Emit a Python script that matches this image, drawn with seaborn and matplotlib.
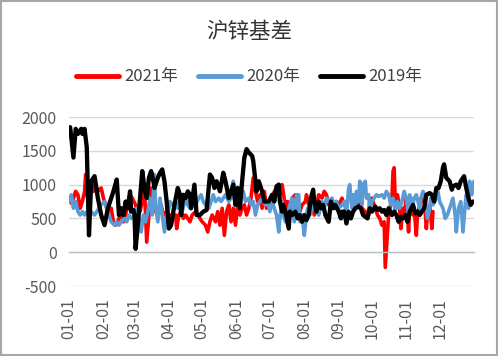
import matplotlib
matplotlib.use("Agg")
import matplotlib.pyplot as plt
from matplotlib.lines import Line2D
from matplotlib.patches import Rectangle
import seaborn as sns
import pandas as pd

# day of year / basis values
d2019 = [1, 4, 6, 8, 11, 12, 14, 16, 18, 20, 23, 26, 29, 32, 35, 40, 43, 45, 47, 49, 51, 53, 55, 56, 58, 59,
         60, 62, 64, 66, 68, 70, 72, 74, 76, 77, 80, 82, 84, 86, 88, 90,
         92, 95, 98, 100, 101, 103, 105, 107, 109, 110, 113, 115, 118, 121, 124, 127, 129, 131, 133, 136,
         139, 141, 144, 146, 148, 150, 152, 154, 156, 158, 160, 162, 165, 166, 168, 169, 171, 174, 176,
         180, 183, 185, 187, 189, 190, 192, 193, 195, 198, 199, 201, 204, 206, 208, 210, 212, 214, 216,
         218, 220, 221, 223, 225, 227, 229, 231, 234, 236, 238, 240, 243, 245, 246, 248, 250, 252, 254,
         256, 258, 261, 263, 265,
         269, 271, 273, 276, 278, 280, 282, 284, 286, 288, 291, 293, 295, 297, 299, 301, 303, 305, 307,
         310, 312, 314, 316, 318, 320, 322, 325, 327, 329, 331, 333, 335, 337, 338, 340, 343, 345, 346,
         349, 351, 353, 356, 358, 360, 362, 364]
v2019 = [1850, 1400, 1825, 1750, 1825, 1750, 1825, 1550, 250, 1050, 1125, 800, 550, 400, 650, 900, 1075, 550,
         650, 550, 750, 650, 900, 600, 625, 550,
         50, 400, 800, 1200, 950, 800, 1100, 1200, 1050, 950, 1100, 1175, 1225, 1050, 750, 350,
         400, 700, 950, 850, 550, 850, 800, 900, 850, 650, 1000, 550, 550, 600, 625, 1150, 1100, 950, 1050, 900,
         1175, 1050, 800, 900, 1000, 700, 950, 650, 1050, 1400, 1525, 1475, 1425, 1350, 1050, 900, 1050, 900, 750,
         750, 850, 750, 975, 1000, 750, 600, 700, 600, 350, 600, 550, 600, 500, 550, 450, 550, 475, 550,
         800, 925, 750, 600, 750, 650, 700, 550, 450, 750, 650, 700, 600, 500, 600, 600, 425, 600, 500,
         600, 650, 675, 650, 550,
         500, 650, 600, 675, 625, 650, 600, 625, 550, 650, 550, 600, 550, 450, 525, 500, 550, 450, 600,
         700, 575, 600, 550, 600, 650, 850, 875, 850, 750, 950, 950, 1050, 1250, 1300, 1100, 1050, 925, 975,
         1000, 950, 1050, 1125, 950, 800, 700, 750]

d2020 = [1, 2, 4, 6, 8, 10, 12, 14, 16, 18, 20, 23, 25, 27, 29, 32, 34, 36, 38, 41, 43, 45, 47, 50, 52, 54,
         56, 59, 61, 63, 65, 67, 69, 71, 73, 75, 77, 78, 80, 82, 84, 86, 88, 90,
         91, 93, 96, 98, 100, 102, 105, 107, 109, 111, 114, 117, 119, 121, 123, 126, 128, 130, 132, 135,
         137, 139, 141, 144, 146, 148, 150, 153, 155, 157, 159, 162, 164, 166, 168, 170, 172, 174, 177, 179,
         181, 183, 185, 187, 189, 190, 192, 193, 195, 197, 199, 201, 203, 205, 207, 208, 210, 212, 213,
         215, 217, 219, 221, 223, 225, 228, 230, 232, 234, 237, 239, 241, 243, 246, 248, 250, 252, 253,
         255, 256, 258, 259, 261, 262, 264, 265, 267, 268, 270, 271,
         273, 275, 277, 279, 282, 284, 286, 288, 290, 292, 294, 296, 298, 300, 302, 304, 306, 307, 310,
         311, 313, 316, 317, 319, 321, 323, 325, 326, 328, 331, 332, 334, 337, 339, 341, 343, 346, 348,
         349, 351, 353, 354, 355, 357, 358, 360, 361, 363, 365]
v2020 = [750, 850, 650, 750, 600, 550, 600, 550, 600, 550, 600, 550, 600, 650, 700, 750, 650, 550, 450, 400,
         450, 400, 450, 500, 450, 550,
         500, 550, 650, 500, 300, 550, 450, 600, 800, 550, 1150, 700, 450, 800, 550, 300, 550, 650,
         750, 700, 750, 650, 750, 600, 800, 700, 650, 800, 700, 800, 850, 750, 700, 650, 750, 850, 750, 800,
         750, 800, 850, 750, 800, 1050, 900, 700, 800, 900, 750, 800, 700, 750, 550, 700, 750, 800, 700, 750,
         600, 750, 650, 550, 300, 500, 750, 550, 450, 550, 700, 800, 450, 850, 850, 450, 550, 250, 400,
         650, 550, 650, 750, 600, 550, 750, 650, 800, 750, 800, 700, 750, 650, 700, 750, 550, 950, 1000,
         650, 850, 650, 900, 750, 1050, 700, 1000, 1050, 800, 850, 650,
         750, 800, 850, 825, 850, 800, 900, 850, 700, 800, 600, 750, 650, 750, 900, 800, 550, 850, 700,
         800, 850, 650, 800, 900, 800, 500, 650, 800, 700, 800, 950, 750, 650, 500, 550, 650, 800, 550,
         300, 650, 750, 550, 300, 700, 850, 650, 1050, 850, 1050]

d2021 = [2, 4, 6, 8, 10, 12, 14, 15, 16, 18, 20, 22, 24, 26, 29, 31, 33, 35, 38, 40, 42, 45, 47, 49, 51, 54,
         55, 57, 60, 62, 64, 66, 68, 70, 72, 74, 76, 78, 80, 83, 85, 88, 90,
         93, 96, 97, 99, 101, 103, 105, 107, 109, 111, 114, 116, 118, 120, 123, 125, 127, 129, 132, 134,
         136, 138, 140, 142, 144, 146, 148, 150, 152, 154, 156, 158, 160, 162, 164, 166, 168, 170, 172,
         174, 176, 178, 180,
         181, 183, 185, 187, 189, 190, 192, 193, 195, 197, 199, 201, 204, 206, 208, 210, 213, 214, 216,
         219, 221, 223, 225, 228, 230, 232, 234, 237, 239, 241, 243, 246, 248, 250, 253, 255, 258, 260,
         262, 264, 267, 270,
         271, 273, 276, 278, 280, 282, 284, 285, 287, 288, 291, 292, 293, 294, 296, 298, 299, 301, 302,
         304, 306, 307, 310, 311, 313, 314, 316, 319, 320, 322, 323, 325, 327, 328]
v2021 = [725, 800, 900, 850, 650, 750, 900, 1150, 850, 750, 1050, 900, 1000, 900, 950, 800, 700, 600, 650,
         450, 400, 500, 550, 450, 550, 800,
         850, 800, 700, 550, 600, 750, 950, 150, 550, 950, 850, 600, 550, 700, 550, 600, 550,
         550, 550, 350, 550, 600, 500, 550, 500, 450, 550, 600, 550, 500, 450, 400, 300, 450, 550, 450, 600,
         400, 650, 250, 600, 700, 450, 650, 400, 700, 550, 650, 700, 550, 650, 800, 1100, 900, 750, 850,
         650, 900, 650, 750,
         650, 800, 900, 950, 1000, 850, 1000, 900, 650, 750, 600, 800, 850, 700, 600, 700, 750, 850, 700,
         750, 550, 700, 850, 800, 900, 850, 700, 750, 650, 750, 700, 800, 700, 750, 800, 850, 800, 700,
         750, 650, 600, 550,
         750, 800, 650, 550, 500, 400, 450, -225, 300, 550, 800, 1200, 1250, 750, 850, 650, 350, 650, 550,
         800, 300, 650, 550, 650, 250, 550, 700, 800, 850, 350, 550, 700, 350, 600]

years = ["2021年", "2020年", "2019年"]
colors = ["#FF0000", "#5B9BD5", "#000000"]
month_days = [0, 31, 59, 90, 120, 151, 181, 212, 243, 273, 304, 334]
month_labels = ["01-01", "02-01", "03-01", "04-01", "05-01", "06-01",
                "07-01", "08-01", "09-01", "10-01", "11-01", "12-01"]

df = pd.concat([
    pd.DataFrame({"day": d2021, "basis": v2021, "year": years[0]}),
    pd.DataFrame({"day": d2020, "basis": v2020, "year": years[1]}),
    pd.DataFrame({"day": d2019, "basis": v2019, "year": years[2]}),
])

sns.set_theme(style="white")
plt.rcParams['font.family'] = ['Noto Sans CJK SC', 'DejaVu Sans']
plt.rcParams['axes.unicode_minus'] = False

fig = plt.figure(figsize=(4.98, 3.56), dpi=100)
ax = fig.add_axes([0.1386, 0.1966, 0.8133, 0.4747])

sns.lineplot(data=df, x="day", y="basis", hue="year", hue_order=years,
             palette=colors, estimator=None, sort=False, linewidth=2.6,
             legend=False, ax=ax)
ax.lines[2].set_linewidth(3.1)

ax.set_xlim(0, 365)
ax.set_ylim(-500, 2000)
ax.set_yticks([-500, 0, 500, 1000, 1500, 2000])
ax.yaxis.grid(True, color="#D9D9D9", linewidth=1)
ax.set_axisbelow(True)
ax.set_xlabel("")
ax.set_ylabel("")

for s in ["left", "right", "top"]:
    ax.spines[s].set_visible(False)
ax.spines["bottom"].set_position(("data", 0))
ax.spines["bottom"].set_color("#BFBFBF")
ax.spines["bottom"].set_linewidth(1)

ax.set_xticks(month_days)
ax.set_xticklabels(month_labels, rotation=90, va="top")
ax.tick_params(axis="x", direction="out", length=4, width=1, color="#BFBFBF",
               pad=29, labelsize=11.5, labelcolor="#595959")
ax.tick_params(axis="y", length=0, pad=9, labelsize=11.5, labelcolor="#595959")

fig.text(0.5, 0.91, "沪锌基差", ha="center", va="center", fontsize=15.5, color="#333333")

handles = [Line2D([0], [0], color=c, linewidth=3.5) for c in colors]
fig.legend(handles, years, loc="center", bbox_to_anchor=(0.5, 0.784), ncol=3,
           frameon=False, fontsize=12, handlelength=2.6, handletextpad=0.3,
           columnspacing=1.2, labelcolor="#404040")

fig.add_artist(Rectangle((0.002, 0.003), 0.996, 0.994, transform=fig.transFigure,
                         fill=False, edgecolor="#A6A6A6", linewidth=1.5))

fig.savefig("out.png", dpi=100)
